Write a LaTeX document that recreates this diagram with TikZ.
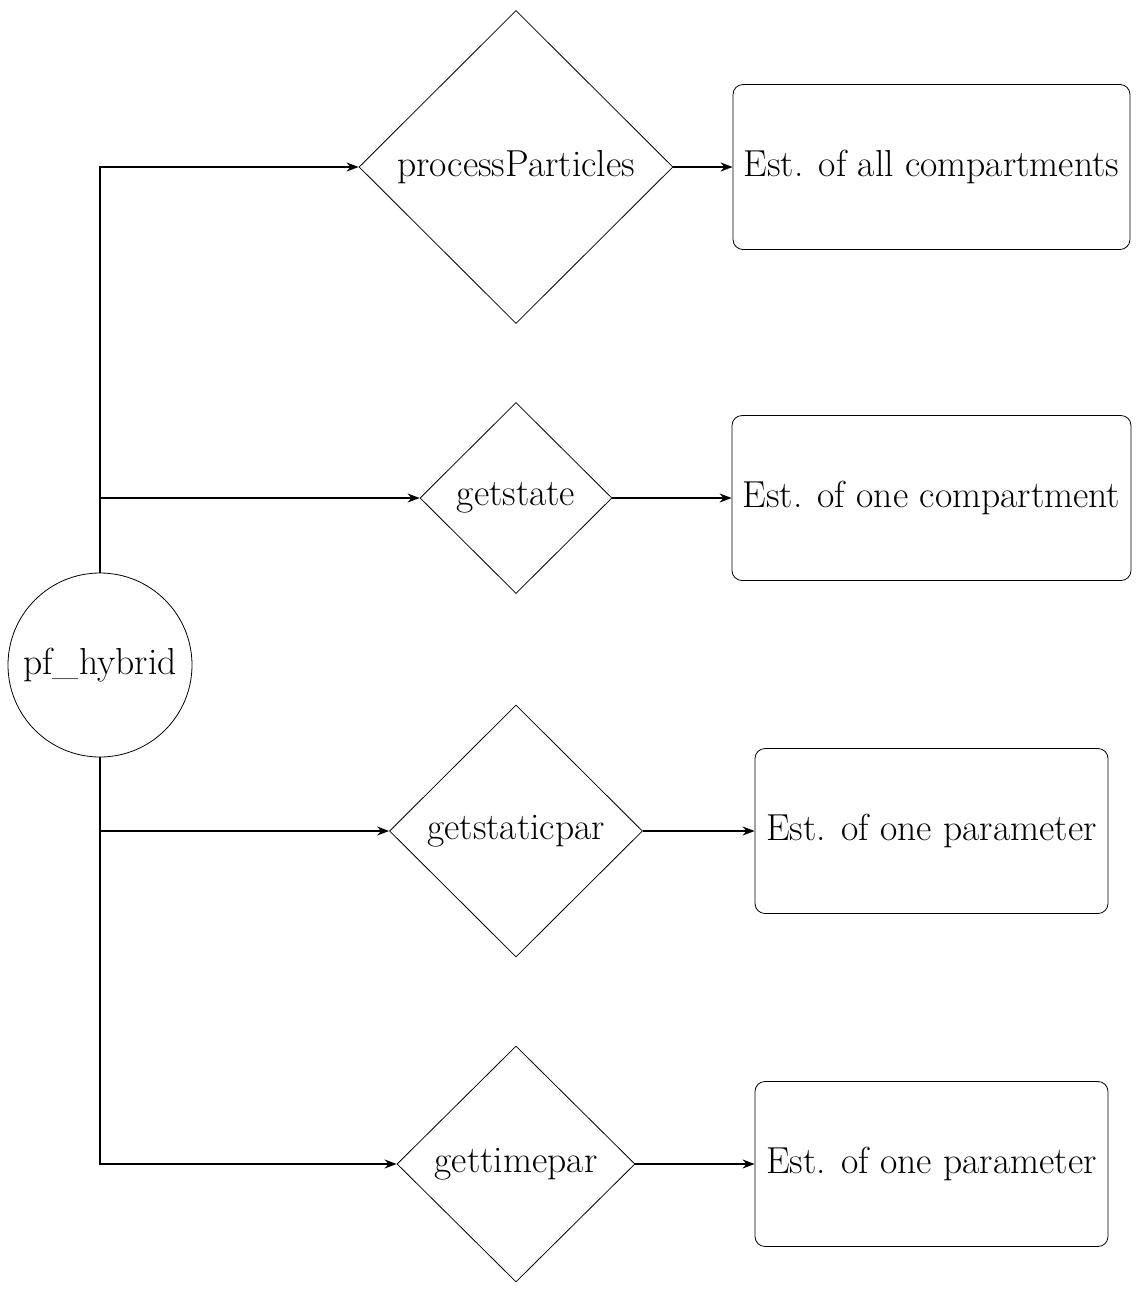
\documentclass[tikz,border=0pt]{standalone}
\usetikzlibrary{shapes.geometric,arrows.meta}
\begin{document}
\begin{tikzpicture}[x=0.5pt,y=-0.5pt,
  every node/.style={font=\fontsize{18.8}{22}\selectfont},
  dia/.style={draw,diamond,inner sep=0pt,line width=0.4pt},
  est/.style={draw,rounded corners=5pt,minimum height=82.5pt,line width=0.4pt,inner sep=0pt},
  conn/.style={line width=0.8pt,-{Stealth[length=6pt,width=4.5pt]}}]
\useasboundingbox (0,0) rectangle (1146,1297);
\node[draw,circle,minimum size=92pt,inner sep=0pt,line width=0.4pt] (c) at (100,665) {pf\_hybrid};
\node[dia,minimum width=157pt,minimum height=156.5pt] (d1) at (516,167) {processParticles};
\node[dia,minimum width=96pt,minimum height=95.5pt] (d2) at (516,498) {getstate};
\node[dia,minimum width=126.5pt,minimum height=126pt] (d3) at (516,831) {getstaticpar};
\node[dia,minimum width=119pt,minimum height=118pt] (d4) at (516,1164) {gettimepar};
\node[est,minimum width=198.5pt] (e1) at (931.5,167) {Est. of all compartments};
\node[est,minimum width=199.5pt] (e2) at (931.5,498) {Est. of one compartment};
\node[est,minimum width=176.5pt] (e3) at (931.5,831) {Est. of one parameter};
\node[est,minimum width=176.5pt] (e4) at (931.5,1164) {Est. of one parameter};
\draw[conn] (c.north) |- (d1.west);
\draw[conn] (c.north) |- (d2.west);
\draw[conn] (c.south) |- (d3.west);
\draw[conn] (c.south) |- (d4.west);
\draw[conn] (d1.east) -- (e1.west);
\draw[conn] (d2.east) -- (e2.west);
\draw[conn] (d3.east) -- (e3.west);
\draw[conn] (d4.east) -- (e4.west);
\end{tikzpicture}
\end{document}
